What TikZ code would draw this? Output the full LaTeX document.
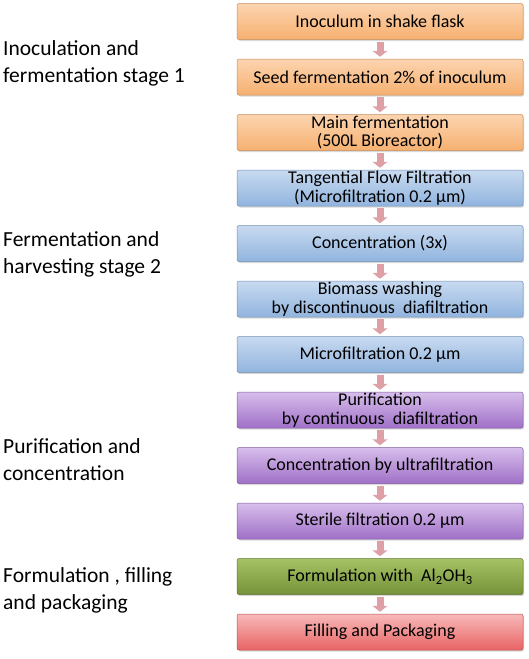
\documentclass[tikz,border=0pt]{standalone}
\usepackage{fontspec}
\setmainfont{Carlito}
\usetikzlibrary{positioning, shadows, arrows.meta}

\definecolor{orangetop}{RGB}{252,212,176}
\definecolor{orangebot}{RGB}{246,176,112}
\definecolor{bluetop}{RGB}{200,218,240}
\definecolor{bluebot}{RGB}{145,180,222}
\definecolor{purpletop}{RGB}{215,190,235}
\definecolor{purplebot}{RGB}{160,112,200}
\definecolor{greentop}{RGB}{165,195,100}
\definecolor{greenbot}{RGB}{118,146,58}
\definecolor{redtop}{RGB}{248,185,185}
\definecolor{redbot}{RGB}{232,100,100}
\definecolor{arrowpink}{RGB}{222,160,165}

\begin{document}
\begin{tikzpicture}[x=1pt, y=-1pt,
    node distance=19pt,
    stage/.style={rounded corners=2pt, line width=0.5pt, minimum width=286pt,
        minimum height=36pt, inner sep=0pt, align=center,
        font=\fontsize{18}{18.5}\selectfont,
        drop shadow={opacity=0.3, shadow xshift=1.2pt, shadow yshift=-1.5pt}},
    orangebox/.style={stage, draw=orangebot!80!black, top color=orangetop, bottom color=orangebot},
    bluebox/.style={stage, draw=bluebot!80!black, top color=bluetop, bottom color=bluebot},
    purplebox/.style={stage, draw=purplebot!80!black, top color=purpletop, bottom color=purplebot},
    greenbox/.style={stage, draw=greenbot!80!black, top color=greentop, bottom color=greenbot},
    redbox/.style={stage, draw=redbot!80!black, top color=redtop, bottom color=redbot},
    phase/.style={anchor=west, inner sep=0pt, align=left, font=\fontsize{21.5}{27}\selectfont},
    flow/.style={draw=arrowpink, line width=7pt, -{Triangle[width=15pt, length=6pt]},
        shorten <=2pt, shorten >=2pt}
]
    \useasboundingbox (0,0) rectangle (529,659);

    % --- stage 1: inoculation ---
    \node[orangebox] (b1) at (380,21.5) {Inoculum in shake flask};
    \node[orangebox, below=of b1] (b2) {Seed fermentation 2\% of inoculum};
    \node[orangebox, below=of b2] (b3) {Main fermentation\\(500L Bioreactor)};

    % --- stage 2: harvesting ---
    \node[bluebox, below=of b3] (b4) {Tangential Flow Filtration\\(Microfiltration 0.2 µm)};
    \node[bluebox, below=of b4] (b5) {Concentration (3x)};
    \node[bluebox, below=of b5] (b6) {Biomass washing\\by discontinuous\ \ diafiltration};
    \node[bluebox, below=of b6] (b7) {Microfiltration 0.2 µm};

    % --- purification ---
    \node[purplebox, below=of b7] (b8) {Purification\\by continuous\ \ diafiltration};
    \node[purplebox, below=of b8] (b9) {Concentration by ultrafiltration};
    \node[purplebox, below=of b9] (b10) {Sterile filtration 0.2 µm};

    % --- formulation ---
    \node[greenbox, below=of b10] (b11) {Formulation with\ \ Al\textsubscript{2}OH\textsubscript{3}};
    \node[redbox, below=of b11] (b12) {Filling and Packaging};

    % pfeile zwischen den Stufen
    \foreach \a/\b in {1/2, 2/3, 3/4, 4/5, 5/6, 6/7, 7/8, 8/9, 9/10, 10/11, 11/12}
        \draw[flow] (b\a.south) -- (b\b.north);

    % Phasen links
    \node[phase] (p1) at (3,63.5) {Inoculation and\\fermentation stage 1};
    \node[phase] (p2) at (3,254) {Fermentation and\\harvesting stage 2};
    \node[phase] (p3) at (3,460) {Purification and\\concentration};
    \node[phase] (p4) at (3,590.5) {Formulation , filling\\and packaging};

\end{tikzpicture}
\end{document}
